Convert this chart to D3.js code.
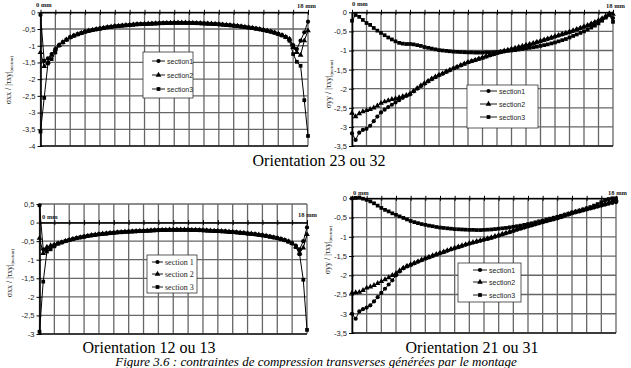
<!DOCTYPE html>
<html><head><meta charset="utf-8">
<script src="https://cdn.jsdelivr.net/npm/d3@7"></script>
<style>body{margin:0;background:#fff;} svg{display:block;}</style>
</head><body>
<svg id="c" width="631" height="368"></svg>
<script>
// x positions along the specimen (mm)
const xs = [0,0.25,0.5,0.75,1,1.25,1.5,1.75,2,2.25,2.5,2.75,3,3.25,3.5,3.75,4,4.25,4.5,4.75,5,5.25,5.5,5.75,6,6.25,6.5,6.75,7,7.25,7.5,7.75,8,8.25,8.5,8.75,9,9.25,9.5,9.75,10,10.25,10.5,10.75,11,11.25,11.5,11.75,12,12.25,12.5,12.75,13,13.25,13.5,13.75,14,14.25,14.5,14.75,15,15.25,15.5,15.75,16,16.25,16.5,16.75,17,17.25,17.5,17.75,18];

// Panel 1 : sigma_xx, orientation 23 ou 32
const p1s1 = [-0.08,-1.45,-1.38,-1.25,-1.10,-0.99,-0.90,-0.82,-0.75,-0.70,-0.66,-0.62,-0.58,-0.555,-0.53,-0.51,-0.49,-0.47,-0.45,-0.435,-0.42,-0.41,-0.40,-0.39,-0.38,-0.37,-0.36,-0.355,-0.35,-0.345,-0.34,-0.335,-0.33,-0.325,-0.32,-0.32,-0.315,-0.315,-0.315,-0.315,-0.32,-0.32,-0.325,-0.33,-0.335,-0.34,-0.345,-0.35,-0.36,-0.37,-0.38,-0.39,-0.40,-0.41,-0.425,-0.44,-0.455,-0.47,-0.49,-0.51,-0.53,-0.555,-0.58,-0.61,-0.65,-0.69,-0.74,-0.80,-0.98,-1.10,-0.85,-0.60,-0.28];
const p1s2 = [-1.20,-1.62,-1.50,-1.28,-1.10,-0.99,-0.90,-0.82,-0.75,-0.70,-0.66,-0.62,-0.58,-0.555,-0.53,-0.51,-0.49,-0.47,-0.45,-0.435,-0.42,-0.41,-0.40,-0.39,-0.38,-0.37,-0.36,-0.355,-0.35,-0.345,-0.34,-0.335,-0.33,-0.325,-0.32,-0.32,-0.315,-0.315,-0.315,-0.315,-0.32,-0.32,-0.325,-0.33,-0.335,-0.34,-0.345,-0.35,-0.36,-0.37,-0.38,-0.39,-0.40,-0.41,-0.425,-0.44,-0.455,-0.47,-0.49,-0.51,-0.53,-0.555,-0.58,-0.61,-0.65,-0.69,-0.74,-0.80,-1.05,-1.20,-1.28,-0.85,-0.55];
const p1s3 = [-3.57,-2.56,-1.53,-1.40,-1.20,-0.99,-0.90,-0.82,-0.75,-0.70,-0.66,-0.62,-0.58,-0.555,-0.53,-0.51,-0.49,-0.47,-0.45,-0.435,-0.42,-0.41,-0.40,-0.39,-0.38,-0.37,-0.36,-0.355,-0.35,-0.345,-0.34,-0.335,-0.33,-0.325,-0.32,-0.32,-0.315,-0.315,-0.315,-0.315,-0.32,-0.32,-0.325,-0.33,-0.335,-0.34,-0.345,-0.35,-0.36,-0.37,-0.38,-0.39,-0.40,-0.41,-0.425,-0.44,-0.455,-0.47,-0.49,-0.51,-0.53,-0.555,-0.58,-0.61,-0.65,-0.69,-0.74,-0.85,-1.25,-1.48,-1.60,-2.63,-3.70];

// Panel 2 : sigma_yy, orientation 23 ou 32
const p2s1 = [-3.17,-3.34,-3.15,-3.08,-3.05,-2.97,-2.85,-2.73,-2.62,-2.55,-2.48,-2.42,-2.36,-2.30,-2.24,-2.19,-2.15,-2.07,-2.00,-1.93,-1.87,-1.81,-1.75,-1.70,-1.65,-1.61,-1.56,-1.52,-1.47,-1.43,-1.39,-1.35,-1.31,-1.28,-1.25,-1.22,-1.19,-1.16,-1.13,-1.10,-1.07,-1.045,-1.02,-0.995,-0.97,-0.945,-0.92,-0.895,-0.87,-0.845,-0.82,-0.79,-0.76,-0.73,-0.70,-0.67,-0.64,-0.61,-0.58,-0.55,-0.52,-0.49,-0.455,-0.42,-0.385,-0.35,-0.31,-0.27,-0.23,-0.18,-0.12,-0.05,-0.15];
const p2s2 = [-2.64,-2.73,-2.65,-2.60,-2.57,-2.54,-2.50,-2.45,-2.38,-2.34,-2.31,-2.28,-2.26,-2.23,-2.20,-2.17,-2.13,-2.06,-1.99,-1.92,-1.86,-1.80,-1.74,-1.69,-1.64,-1.60,-1.55,-1.51,-1.47,-1.43,-1.39,-1.35,-1.31,-1.28,-1.25,-1.22,-1.19,-1.16,-1.13,-1.10,-1.07,-1.04,-1.01,-0.985,-0.96,-0.935,-0.91,-0.885,-0.86,-0.835,-0.81,-0.78,-0.75,-0.72,-0.69,-0.66,-0.63,-0.60,-0.57,-0.54,-0.51,-0.48,-0.445,-0.41,-0.375,-0.34,-0.30,-0.26,-0.21,-0.16,-0.10,-0.03,-0.05];
const p2s3 = [-0.22,-0.07,-0.12,-0.20,-0.28,-0.33,-0.41,-0.48,-0.54,-0.60,-0.66,-0.71,-0.76,-0.80,-0.82,-0.83,-0.83,-0.84,-0.86,-0.88,-0.91,-0.93,-0.95,-0.97,-0.99,-1.00,-1.01,-1.02,-1.03,-1.035,-1.04,-1.045,-1.05,-1.05,-1.055,-1.055,-1.055,-1.05,-1.05,-1.045,-1.04,-1.03,-1.02,-1.01,-1.00,-0.99,-0.975,-0.96,-0.945,-0.93,-0.915,-0.90,-0.88,-0.86,-0.84,-0.815,-0.79,-0.76,-0.73,-0.70,-0.66,-0.62,-0.58,-0.54,-0.50,-0.45,-0.40,-0.35,-0.29,-0.22,-0.14,-0.07,-0.25];

// Panel 3 : sigma_xx, orientation 12 ou 13
const p3s1 = [0.46,-0.72,-0.70,-0.65,-0.60,-0.565,-0.535,-0.50,-0.47,-0.445,-0.42,-0.40,-0.38,-0.36,-0.345,-0.33,-0.315,-0.305,-0.295,-0.285,-0.275,-0.265,-0.26,-0.25,-0.245,-0.24,-0.235,-0.23,-0.225,-0.22,-0.215,-0.21,-0.205,-0.20,-0.20,-0.195,-0.195,-0.195,-0.195,-0.195,-0.195,-0.20,-0.20,-0.205,-0.21,-0.215,-0.22,-0.225,-0.23,-0.235,-0.24,-0.25,-0.255,-0.265,-0.275,-0.285,-0.295,-0.305,-0.315,-0.33,-0.345,-0.36,-0.38,-0.40,-0.42,-0.445,-0.475,-0.51,-0.56,-0.62,-0.72,-0.50,-0.13];
const p3s2 = [-0.42,-0.83,-0.66,-0.62,-0.60,-0.565,-0.535,-0.50,-0.47,-0.445,-0.42,-0.40,-0.38,-0.36,-0.345,-0.33,-0.315,-0.305,-0.295,-0.285,-0.275,-0.265,-0.26,-0.25,-0.245,-0.24,-0.235,-0.23,-0.225,-0.22,-0.215,-0.21,-0.205,-0.20,-0.20,-0.195,-0.195,-0.195,-0.195,-0.195,-0.195,-0.20,-0.20,-0.205,-0.21,-0.215,-0.22,-0.225,-0.23,-0.235,-0.24,-0.25,-0.255,-0.265,-0.275,-0.285,-0.295,-0.305,-0.315,-0.33,-0.345,-0.36,-0.38,-0.40,-0.42,-0.445,-0.475,-0.51,-0.56,-0.65,-0.82,-0.68,-0.32];
const p3s3 = [-2.94,-1.59,-0.78,-0.72,-0.64,-0.565,-0.535,-0.50,-0.47,-0.445,-0.42,-0.40,-0.38,-0.36,-0.345,-0.33,-0.315,-0.305,-0.295,-0.285,-0.275,-0.265,-0.26,-0.25,-0.245,-0.24,-0.235,-0.23,-0.225,-0.22,-0.215,-0.21,-0.205,-0.20,-0.20,-0.195,-0.195,-0.195,-0.195,-0.195,-0.195,-0.20,-0.20,-0.205,-0.21,-0.215,-0.22,-0.225,-0.23,-0.235,-0.24,-0.25,-0.255,-0.265,-0.275,-0.285,-0.295,-0.305,-0.315,-0.33,-0.345,-0.36,-0.38,-0.40,-0.42,-0.445,-0.475,-0.51,-0.56,-0.66,-0.85,-1.54,-2.89];

// Panel 4 : sigma_yy, orientation 21 ou 31
const p4s1 = [-3.00,-3.13,-2.94,-2.88,-2.84,-2.78,-2.68,-2.57,-2.46,-2.35,-2.24,-2.13,-2.00,-1.90,-1.82,-1.77,-1.73,-1.69,-1.65,-1.61,-1.57,-1.535,-1.50,-1.465,-1.43,-1.40,-1.365,-1.33,-1.30,-1.27,-1.24,-1.21,-1.18,-1.155,-1.13,-1.105,-1.08,-1.055,-1.03,-1.00,-0.97,-0.94,-0.91,-0.88,-0.85,-0.82,-0.79,-0.76,-0.73,-0.705,-0.675,-0.65,-0.62,-0.595,-0.57,-0.545,-0.52,-0.49,-0.455,-0.425,-0.39,-0.365,-0.34,-0.315,-0.29,-0.265,-0.24,-0.215,-0.19,-0.165,-0.14,-0.12,-0.10];
const p4s2 = [-2.46,-2.45,-2.44,-2.39,-2.33,-2.30,-2.26,-2.21,-2.16,-2.11,-2.06,-2.00,-1.95,-1.88,-1.81,-1.76,-1.72,-1.68,-1.64,-1.60,-1.56,-1.525,-1.49,-1.455,-1.42,-1.39,-1.355,-1.32,-1.29,-1.26,-1.23,-1.20,-1.17,-1.145,-1.12,-1.095,-1.07,-1.045,-1.02,-0.99,-0.96,-0.93,-0.90,-0.87,-0.84,-0.81,-0.78,-0.75,-0.72,-0.695,-0.665,-0.64,-0.61,-0.585,-0.56,-0.535,-0.51,-0.48,-0.445,-0.415,-0.38,-0.355,-0.33,-0.305,-0.28,-0.255,-0.23,-0.205,-0.18,-0.15,-0.11,-0.07,-0.04];
const p4s3 = [0.00,0.01,0.02,-0.01,-0.04,-0.08,-0.13,-0.19,-0.25,-0.30,-0.34,-0.39,-0.43,-0.47,-0.51,-0.55,-0.59,-0.62,-0.645,-0.67,-0.69,-0.71,-0.725,-0.745,-0.76,-0.77,-0.78,-0.79,-0.80,-0.805,-0.81,-0.815,-0.82,-0.82,-0.825,-0.825,-0.82,-0.815,-0.81,-0.80,-0.79,-0.78,-0.77,-0.755,-0.74,-0.725,-0.71,-0.69,-0.67,-0.65,-0.625,-0.60,-0.58,-0.555,-0.53,-0.505,-0.48,-0.455,-0.425,-0.40,-0.37,-0.345,-0.32,-0.29,-0.26,-0.23,-0.19,-0.15,-0.10,-0.06,-0.02,0.00,0.00];

// ticks and labels
const xGrid = [0,1,2,3,4,5,6,7,8,9,10,11,12,13,14,15,16,17,18];
const yTicks1 = [0,-0.5,-1,-1.5,-2,-2.5,-3,-3.5,-4];
const yTicks2 = [0,-0.5,-1,-1.5,-2,-2.5,-3,-3.5];
const yTicks3 = [0.5,0,-0.5,-1,-1.5,-2,-2.5,-3];
const yTicks4 = [0,-0.5,-1,-1.5,-2,-2.5,-3,-3.5];
const namesA = ["section1","section2","section3"];
const namesB = ["section 1","section 2","section 3"];
const titleTop = "Orientation 23 ou 32";
const titleBL = "Orientation 12 ou 13";
const titleBR = "Orientation 21 ou 31";
const caption = "Figure 3.6 : contraintes de compression transverses générées par le montage";

const svg = d3.select("#c");
const fmt = v => String(v).replace(".", ",");
const symbols = [d3.symbolCircle, d3.symbolTriangle, d3.symbolSquare];
const symSize = [14, 14, 14];

const panels = [
  {l:40.5,r:308,t:12.3,b:146,dom:[-4,0],ticks:yTicks1,series:[p1s1,p1s2,p1s3],names:namesA,serifLeg:false,
   sig:"σxx",labX:11,labY:80,mm0:[36,7],mm18:[297,8],
   leg:{x:143,y:52,w:50,h:46,ys:[61,75,89],l1:152,l2:165,tx:167}},
  {l:352,r:613,t:12.3,b:146,dom:[-3.5,0],ticks:yTicks2,series:[p2s1,p2s2,p2s3],names:namesA,serifLeg:false,
   sig:"σyy",labX:331,labY:84,mm0:[352,6],mm18:[606,8],
   leg:{x:467,y:85,w:71,h:43,ys:[91,104,117],l1:480,l2:497,tx:499}},
  {l:39.5,r:307,t:204,b:334,dom:[-3,0.5],ticks:yTicks3,series:[p3s1,p3s2,p3s3],names:namesB,serifLeg:true,
   sig:"σxx",labX:12,labY:273,mm0:[42,219],mm18:[298,217],
   leg:{x:147,y:255,w:50,h:38,ys:[262,274,287],l1:152,l2:163,tx:165}},
  {l:352,r:616,t:198.3,b:333,dom:[-3.5,0],ticks:yTicks4,series:[p4s1,p4s2,p4s3],names:namesA,serifLeg:false,
   sig:"σyy",labX:330,labY:250,mm0:[353,195],mm18:[608,195],
   leg:{x:458,y:263,w:63,h:39,ys:[270,282,295],l1:473,l2:487,tx:489}}
];

panels.forEach(p => {
  const x = d3.scaleLinear([0,18],[p.l,p.r]);
  const y = d3.scaleLinear(p.dom,[p.b,p.t]);
  const g = svg.append("g");
  // grid
  g.append("g").selectAll("line").data(xGrid).join("line")
    .attr("x1",d=>x(d)).attr("x2",d=>x(d)).attr("y1",p.t).attr("y2",p.b)
    .attr("stroke","#666").attr("stroke-width",1.3);
  g.append("g").selectAll("line").data(p.ticks).join("line")
    .attr("x1",p.l).attr("x2",p.r).attr("y1",d=>y(d)).attr("y2",d=>y(d))
    .attr("stroke","#666").attr("stroke-width",1.3);
  // bottom frame
  g.append("line").attr("x1",p.l).attr("x2",p.r).attr("y1",p.b).attr("y2",p.b)
    .attr("stroke","#222").attr("stroke-width",1.5);
  // y axis
  const ya = g.append("g").attr("transform",`translate(${p.l},0)`)
    .call(d3.axisLeft(y).tickValues(p.ticks).tickFormat(fmt).tickSizeInner(3).tickSizeOuter(0).tickPadding(2));
  ya.select(".domain").attr("stroke","#000").attr("stroke-width",1.6);
  ya.selectAll(".tick line").attr("stroke","#000").attr("x2",-3).attr("x1",2);
  ya.selectAll(".tick text").attr("font-family","Liberation Sans, Arial, sans-serif").attr("font-size",7.5).attr("fill","#222");
  // x axis at zero
  const xa = g.append("g").attr("transform",`translate(0,${y(0)})`)
    .call(d3.axisTop(x).tickValues(xGrid).tickFormat("").tickSizeInner(2.5).tickSizeOuter(0));
  xa.select(".domain").attr("stroke","#000").attr("stroke-width",1.6);
  xa.selectAll(".tick line").attr("stroke","#000").attr("y1",2.5);
  // series
  const line = d3.line().x((d,i)=>x(xs[i])).y(d=>y(d));
  p.series.forEach((s,k) => {
    g.append("path").datum(s).attr("d",line).attr("fill","none").attr("stroke","#000").attr("stroke-width",1);
    g.append("g").selectAll("path").data(s).join("path")
      .attr("transform",(d,i)=>`translate(${x(xs[i])},${y(d)})`)
      .attr("d",d3.symbol(symbols[k],symSize[k])).attr("fill","#000");
  });
  // mm labels
  const mmStyle = t => t.attr("font-family","Liberation Serif, Times New Roman, serif").attr("font-size",6.5).attr("font-weight","bold").attr("fill","#222");
  g.append("text").attr("x",p.mm0[0]).attr("y",p.mm0[1]).text("0 mm").call(mmStyle);
  g.append("text").attr("x",p.mm18[0]).attr("y",p.mm18[1]).text("18 mm").call(mmStyle);
  // y label
  const yl = g.append("text").attr("transform",`translate(${p.labX},${p.labY}) rotate(-90)`)
    .attr("text-anchor","middle").attr("font-family","Liberation Serif, Times New Roman, serif")
    .attr("font-size",8).attr("fill","#222");
  yl.append("tspan").text(p.sig + " / |τxy|");
  yl.append("tspan").attr("font-size",4.5).attr("dy",1.5).text("(moteur)");
  // legend
  const L = p.leg;
  g.append("rect").attr("x",L.x).attr("y",L.y).attr("width",L.w).attr("height",L.h)
    .attr("fill","#fff").attr("stroke","#333").attr("stroke-width",0.8);
  p.names.forEach((n,k) => {
    const yy = L.ys[k];
    g.append("line").attr("x1",L.l1).attr("x2",L.l2).attr("y1",yy).attr("y2",yy).attr("stroke","#000").attr("stroke-width",0.9);
    g.append("path").attr("transform",`translate(${(L.l1+L.l2)/2},${yy})`).attr("d",d3.symbol(symbols[k],symSize[k])).attr("fill","#000");
    g.append("text").attr("x",L.tx).attr("y",yy+2.6).text(n)
      .attr("font-family", p.serifLeg ? "Liberation Serif, Times New Roman, serif" : "Liberation Sans, Arial, sans-serif")
      .attr("font-size", p.serifLeg ? 8 : 7).attr("fill","#222");
  });
});

const serif = "Liberation Serif, Times New Roman, serif";
svg.append("text").attr("x",319).attr("y",166).attr("text-anchor","middle").attr("font-family",serif).attr("font-size",16).text(titleTop);
svg.append("text").attr("x",149).attr("y",352.5).attr("text-anchor","middle").attr("font-family",serif).attr("font-size",16).text(titleBL);
svg.append("text").attr("x",472).attr("y",352.5).attr("text-anchor","middle").attr("font-family",serif).attr("font-size",16).text(titleBR);
svg.append("text").attr("x",316).attr("y",366).attr("text-anchor","middle").attr("font-family",serif).attr("font-style","italic").attr("font-size",13).text(caption);
</script>
</body></html>
